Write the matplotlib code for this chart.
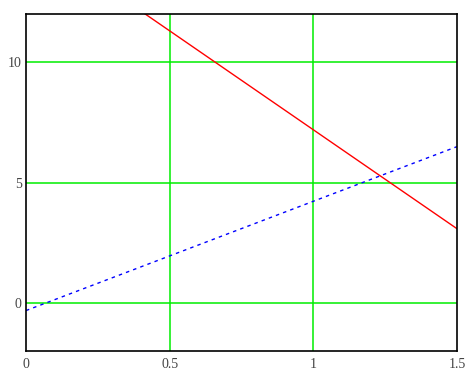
import matplotlib
matplotlib.use("Agg")
import matplotlib.pyplot as plt

# line endpoints
red_x = [0.0, 1.5]
red_y = [15.41, 3.08]
blue_x = [0.0, 1.5]
blue_y = [-0.32, 6.49]

x_ticks = [0, 0.5, 1, 1.5]
x_labels = ["0", "0.5", "1", "1.5"]
y_ticks = [0, 5, 10]
y_labels = ["0", "5", "10"]

plt.rcParams['font.family'] = ['Liberation Serif', 'DejaVu Serif']

fig = plt.figure(figsize=(4.73, 3.82), dpi=100)
ax = fig.add_axes([26 / 473, 31 / 382, 431 / 473, 337 / 382])

# green grid
for gx in [0.5, 1]:
    ax.axvline(gx, color='#00ee00', lw=1.1, zorder=1)
for gy in y_ticks:
    ax.axhline(gy, color='#00ee00', lw=1.1, zorder=1)

ax.plot(red_x, red_y, color='#ff0000', lw=1.0, zorder=3)
ax.plot(blue_x, blue_y, color='#0000ff', lw=1.0, linestyle=(0, (2.5, 3)), zorder=3)

ax.set_xlim(0, 1.5)
ax.set_ylim(-2, 12)
ax.set_xticks(x_ticks)
ax.set_xticklabels(x_labels)
ax.set_yticks(y_ticks)
ax.set_yticklabels(y_labels)
ax.tick_params(length=0, labelsize=10, labelcolor='#444444', pad=5)
ax.tick_params(axis='y', pad=3)

for s in ax.spines.values():
    s.set_color('black')
    s.set_linewidth(1.2)
    s.set_zorder(4)

fig.savefig('out.png', dpi=100)
